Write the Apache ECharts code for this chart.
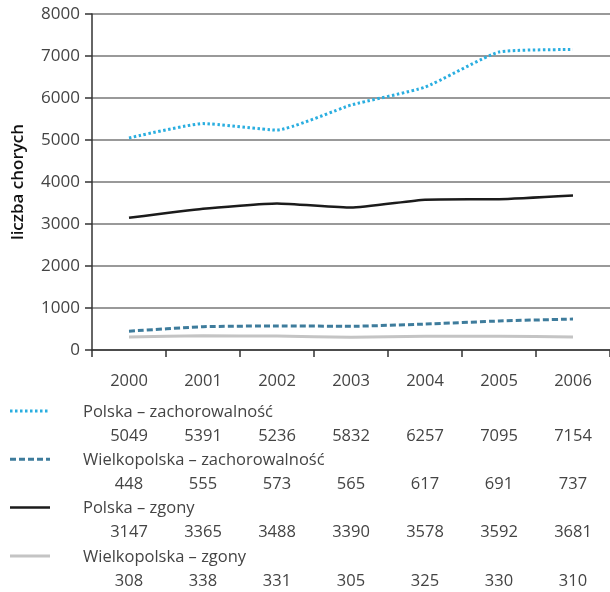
<!DOCTYPE html>
<html>
<head>
<meta charset="utf-8">
<script src="https://cdn.jsdelivr.net/npm/echarts@6/dist/echarts.min.js"></script>
<style>
  html, body { margin: 0; padding: 0; background: #fff; }
  #chart { width: 610px; height: 592px; }
</style>
</head>
<body>
<div id="chart"></div>
<script>
// Zachorowania i zgony, 2000–2006
const years = ['2000', '2001', '2002', '2003', '2004', '2005', '2006'];
const yTicks = [0, 1000, 2000, 3000, 4000, 5000, 6000, 7000, 8000];

const polskaZach = [5049, 5391, 5236, 5832, 6257, 7095, 7154];
const wlkpZach = [448, 555, 573, 565, 617, 691, 737];
const polskaZgony = [3147, 3365, 3488, 3390, 3578, 3592, 3681];
const wlkpZgony = [308, 338, 331, 305, 325, 330, 310];

const seriesNames = [
  'Polska – zachorowalność',
  'Wielkopolska – zachorowalność',
  'Polska – zgony',
  'Wielkopolska – zgony'
];
const seriesValues = [polskaZach, wlkpZach, polskaZgony, wlkpZgony];

const FONT = '"Open Sans", "DejaVu Sans", sans-serif';
const styles = [
  { color: '#2aaee0', type: [2.5, 2.5], width: 3 },
  { color: '#3e7c9c', type: [6, 3], width: 3 },
  { color: '#1b1b1b', type: 'solid', width: 2.5 },
  { color: '#c4c4c4', type: 'solid', width: 3 }
];

const chart = echarts.init(document.getElementById('chart'), null, { renderer: 'canvas' });

const option = {
  animation: false,
  backgroundColor: '#fff',
  grid: { left: 92, top: 14, width: 525, height: 336, containLabel: false },
  xAxis: {
    type: 'category',
    data: years,
    boundaryGap: true,
    axisLine: { lineStyle: { color: '#333', width: 1.5 } },
    axisTick: { show: true, length: 7, inside: false, lineStyle: { color: '#333', width: 1.5 } },
    axisLabel: { color: '#444', fontFamily: FONT, fontSize: 16.5, margin: 23 },
    splitLine: { show: false }
  },
  yAxis: {
    type: 'value',
    min: yTicks[0],
    max: yTicks[yTicks.length - 1],
    interval: 1000,
    name: 'liczba chorych',
    nameLocation: 'middle',
    nameGap: 65,
    nameRotate: 90,
    nameTextStyle: { color: '#111', fontFamily: FONT, fontSize: 17, fontWeight: 600 },
    axisLine: { show: true, lineStyle: { color: '#333', width: 1.5 } },
    axisTick: { show: true, length: 7, lineStyle: { color: '#333', width: 1.5 } },
    axisLabel: {
      color: '#444', fontFamily: FONT, fontSize: 17, margin: 12,
      formatter: (v) => String(v)
    },
    splitLine: { show: true, lineStyle: { color: '#777', width: 1.6 } }
  },
  series: seriesValues.map((vals, i) => ({
    name: seriesNames[i],
    type: 'line',
    data: vals,
    smooth: 0.15,
    symbol: 'none',
    z: 10 - i,
    lineStyle: { color: styles[i].color, type: styles[i].type, width: styles[i].width, cap: 'butt' }
  }))
};

chart.setOption(option);

// Legend with the value table underneath the chart
function buildTable() {
  const elements = [];
  const rowTop = 412;
  const rowStep = 48.3;
  seriesNames.forEach((name, i) => {
    const yName = rowTop + i * rowStep;
    const yVals = yName + 24;
    elements.push({
      type: 'line',
      shape: { x1: 10, y1: yName - 1, x2: 50, y2: yName - 1 },
      style: { stroke: styles[i].color, lineWidth: styles[i].width, lineDash: styles[i].type === 'solid' ? null : styles[i].type }
    });
    elements.push({
      type: 'text',
      x: 83, y: yName,
      style: { text: name, fill: '#444', font: '16.5px ' + FONT, textVerticalAlign: 'middle', textAlign: 'left' }
    });
    seriesValues[i].forEach((v, j) => {
      const px = chart.convertToPixel({ xAxisIndex: 0 }, years[j]);
      elements.push({
        type: 'text',
        x: px, y: yVals,
        style: { text: String(v), fill: '#444', font: '16.5px ' + FONT, textVerticalAlign: 'middle', textAlign: 'center' }
      });
    });
  });
  chart.setOption({ graphic: { elements: elements } });
}
buildTable();
</script>
</body>
</html>
